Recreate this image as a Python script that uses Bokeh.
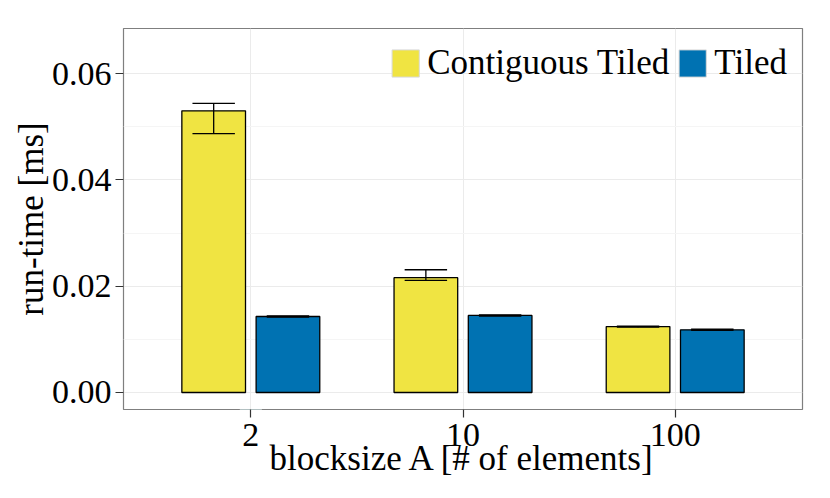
from bokeh.plotting import figure
from bokeh.models import (FactorRange, Range1d, FixedTicker, ColumnDataSource,
                          Legend, LegendItem, PrintfTickFormatter)
from bokeh.transform import dodge
from bokeh.embed import file_html
from bokeh.resources import INLINE

# ---- data ----
blocksizes = ["2", "10", "100"]
contiguous_tiled = [0.0530, 0.0216, 0.0124]
contiguous_lo = [0.0487, 0.0211, 0.0123]
contiguous_hi = [0.0544, 0.0231, 0.0125]
tiled = [0.0143, 0.0145, 0.0118]
tiled_lo = [0.0142, 0.0144, 0.0117]
tiled_hi = [0.0144, 0.0146, 0.0119]
y_ticks = [0.0, 0.02, 0.04, 0.06]
y_minor = [0.01, 0.03, 0.05]

YELLOW = "#F0E442"
BLUE = "#0072B2"
FONT = "Liberation Serif"

src = ColumnDataSource(dict(
    cat=blocksizes,
    ct=contiguous_tiled, ct_lo=contiguous_lo, ct_hi=contiguous_hi,
    t=tiled, t_lo=tiled_lo, t_hi=tiled_hi,
    zero=[0.0] * len(blocksizes),
))

p = figure(width=822, height=490, output_backend="svg", toolbar_location=None,
           x_range=FactorRange(factors=blocksizes, range_padding=0.1,
                               range_padding_units="absolute"),
           y_range=Range1d(-0.0032, 0.0685),
           min_border_left=123, min_border_right=20, min_border_top=28,
           min_border_bottom=81)

off = 0.175
bw = 0.3
p.vbar(x=dodge("cat", -off, range=p.x_range), top="ct", bottom="zero", width=bw,
       source=src, fill_color=YELLOW, line_color="black", line_width=1.3)
p.vbar(x=dodge("cat", off, range=p.x_range), top="t", bottom="zero", width=bw,
       source=src, fill_color=BLUE, line_color="black", line_width=1.3)

# error bars
for o, lo, hi in [(-off, "ct_lo", "ct_hi"), (off, "t_lo", "t_hi")]:
    xd = dodge("cat", o, range=p.x_range)
    p.segment(x0=xd, x1=xd, y0=lo, y1=hi, source=src, line_color="black", line_width=1.3)
    p.segment(x0=dodge("cat", o - 0.1, range=p.x_range), x1=dodge("cat", o + 0.1, range=p.x_range),
              y0=lo, y1=lo, source=src, line_color="black", line_width=1.3)
    p.segment(x0=dodge("cat", o - 0.1, range=p.x_range), x1=dodge("cat", o + 0.1, range=p.x_range),
              y0=hi, y1=hi, source=src, line_color="black", line_width=1.3)

# legend keys (no black outline); drawn off-range so only the legend shows them
key_src = ColumnDataSource(dict(x=[blocksizes[0]], top=[-1.0], bottom=[-1.1]))
r1 = p.vbar(x="x", top="top", bottom="bottom", width=0.1, source=key_src,
            fill_color=YELLOW, line_color="#d9d9d9")
r2 = p.vbar(x="x", top="top", bottom="bottom", width=0.1, source=key_src,
            fill_color=BLUE, line_color="#d9d9d9")
legend = Legend(items=[LegendItem(label="Contiguous Tiled", renderers=[r1]),
                       LegendItem(label="Tiled", renderers=[r2])],
                orientation="horizontal", location="top_right",
                glyph_width=34, glyph_height=34, label_standoff=5, spacing=6,
                padding=4, margin=11, border_line_alpha=0, background_fill_alpha=0,
                label_text_font=FONT, label_text_font_size="35px",
                label_text_color="black", label_height=34)
p.add_layout(legend, "center")

# axes
p.yaxis.ticker = FixedTicker(ticks=y_ticks, minor_ticks=y_minor)
p.yaxis.formatter = PrintfTickFormatter(format="%.2f")
p.xaxis.axis_label = "blocksize A [# of elements]"
p.yaxis.axis_label = "run-time [ms]"
for ax in (p.xaxis[0], p.yaxis[0]):
    ax.axis_label_text_font = FONT
    ax.axis_label_text_font_size = "35px"
    ax.axis_label_text_font_style = "normal"
    ax.axis_label_text_color = "black"
    ax.major_label_text_font = FONT
    ax.major_label_text_font_size = "34px"
    ax.major_label_text_color = "black"
    ax.axis_line_color = None
    ax.major_tick_in = 0
    ax.major_tick_out = 8
    ax.major_tick_line_color = "#333333"
    ax.major_tick_line_width = 1.2
    ax.minor_tick_line_color = None
p.yaxis.major_label_standoff = 4
p.yaxis.axis_label_standoff = -2
p.xaxis.major_label_standoff = 6
p.xaxis.axis_label_standoff = -10

p.xgrid.grid_line_color = "#ebebeb"
p.ygrid.grid_line_color = "#ebebeb"
p.ygrid.minor_grid_line_color = "#f5f5f5"
p.outline_line_color = "#7f7f7f"
p.outline_line_width = 1.2
p.background_fill_color = "white"
p.border_fill_color = "white"

open("out.html", "w").write(file_html(p, INLINE))
